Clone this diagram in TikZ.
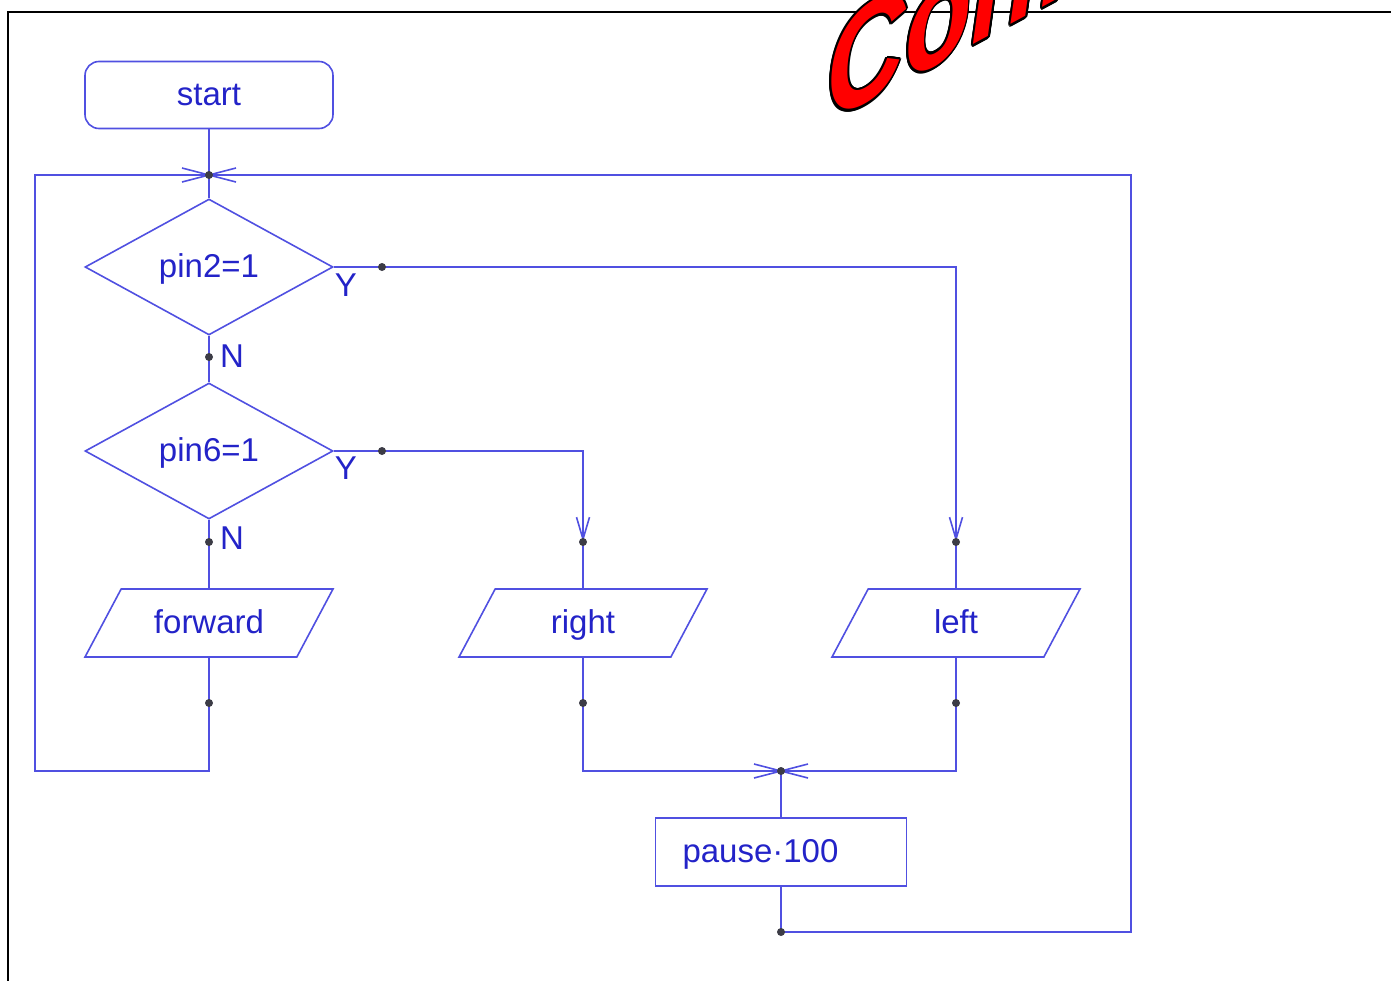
\documentclass[tikz,border=0pt]{standalone}
\usepackage{fontspec}
\setmainfont{Liberation Sans}
\usepackage[copies]{contour}
\usetikzlibrary{shapes.geometric,arrows.meta,positioning}
\definecolor{fcLine}{RGB}{80,80,225}
\definecolor{fcText}{RGB}{35,35,200}
\definecolor{fcDot}{RGB}{60,60,70}
\definecolor{fcRed}{RGB}{255,0,0}
\tikzset{
    base/.style={font=\fontsize{33}{40}\selectfont, text=fcText, draw=fcLine,
                 line width=1.6pt, inner sep=0pt, text height=26pt, text depth=6pt},
    terminal/.style={base, rectangle, rounded corners=14pt, minimum width=248pt, minimum height=67pt},
    decision/.style={base, diamond, minimum width=248pt, minimum height=136pt},
    io/.style={base, trapezium, trapezium left angle=62, trapezium right angle=118,
               trapezium stretches body, inner ysep=18pt, minimum width=248pt},
    process/.style={base, rectangle, inner xsep=27pt, text width=197pt, align=left, minimum height=68pt},
    flow/.style={fcLine, line width=1.6pt},
    arrowline/.style={flow, -{Straight Barb[length=22pt,width=13pt]}},
    pin/.style={circle, fill=fcDot, inner sep=0pt, minimum size=8pt},
    answer/.style={font=\fontsize{33}{40}\selectfont, text=fcText, inner sep=0pt}
}

\begin{document}
\begin{tikzpicture}[x=1pt, y=-1pt]
  \useasboundingbox (0,0) rectangle (1391,980);
  \draw[line width=2.2pt] (1400,12) -- (8,12) -- (8,990);

  \node[font=\fontsize{140}{140}\bfseries\itshape\selectfont, text=fcRed, anchor=base west,
        xscale=0.78, yslant=0.42, inner sep=0pt] (banner) at (826,124)
        {\contourlength{2.5pt}\contour{black}{Config}};

  % blocks
  \node[terminal] (start) at (209,95) {start};
  \coordinate (top) at (209,175);
  \node[decision] (pin2) at (209,267) {pin2=1};
  \node[decision] (pin6) at (209,451) {pin6=1};
  \node[io] (fwd) at (209,623) {forward};
  \node[io] (right) at (583,623) {right};
  \node[io] (left) at (956,623) {left};
  \coordinate (merge) at (781,771);
  \node[process] (pause) at (781,852) {pause·100};
  \coordinate (hitR) at (583,542);
  \coordinate (hitL) at (956,542);
  \coordinate (back) at (781,932);

  % main line and loops
  \draw[flow] (start) -- (top) -- (pin2);
  \draw[flow] (pin2) -- (pin6);
  \draw[flow] (pin6) -- (fwd);
  \draw[flow] (fwd.south) |- (35,771) -- (35,175) -- (top);
  \draw[flow] (pause) -- (back) -| (1131,175) -- (top);

  % yes branches
  \draw[arrowline] (pin2.east) -| (hitL);
  \draw[flow] (hitL) -- (left);
  \draw[arrowline] (pin6.east) -| (hitR);
  \draw[flow] (hitR) -- (right);
  \draw[flow] (right) |- (merge);
  \draw[flow] (left) |- (merge);
  \draw[flow] (merge) -- (pause);

  % junction stars
  \foreach \c in {top,merge}
    \draw[flow] ([shift={(-27,-7)}]\c) -- ([shift={(27,7)}]\c)
                ([shift={(-27,7)}]\c) -- ([shift={(27,-7)}]\c);

  \foreach \p in {(382,267),(382,451),(209,357),(209,542),(hitR),(hitL),
                  (209,703),(583,703),(956,703),(back),(top),(merge)}
    \node[pin] at \p {};

  \node[answer] (y2) at (346,285) {Y};
  \node[answer] (y6) at (346,468) {Y};
  \node[answer] (n2) at (232,356) {N};
  \node[answer] (n6) at (232,538) {N};
\end{tikzpicture}
\end{document}
